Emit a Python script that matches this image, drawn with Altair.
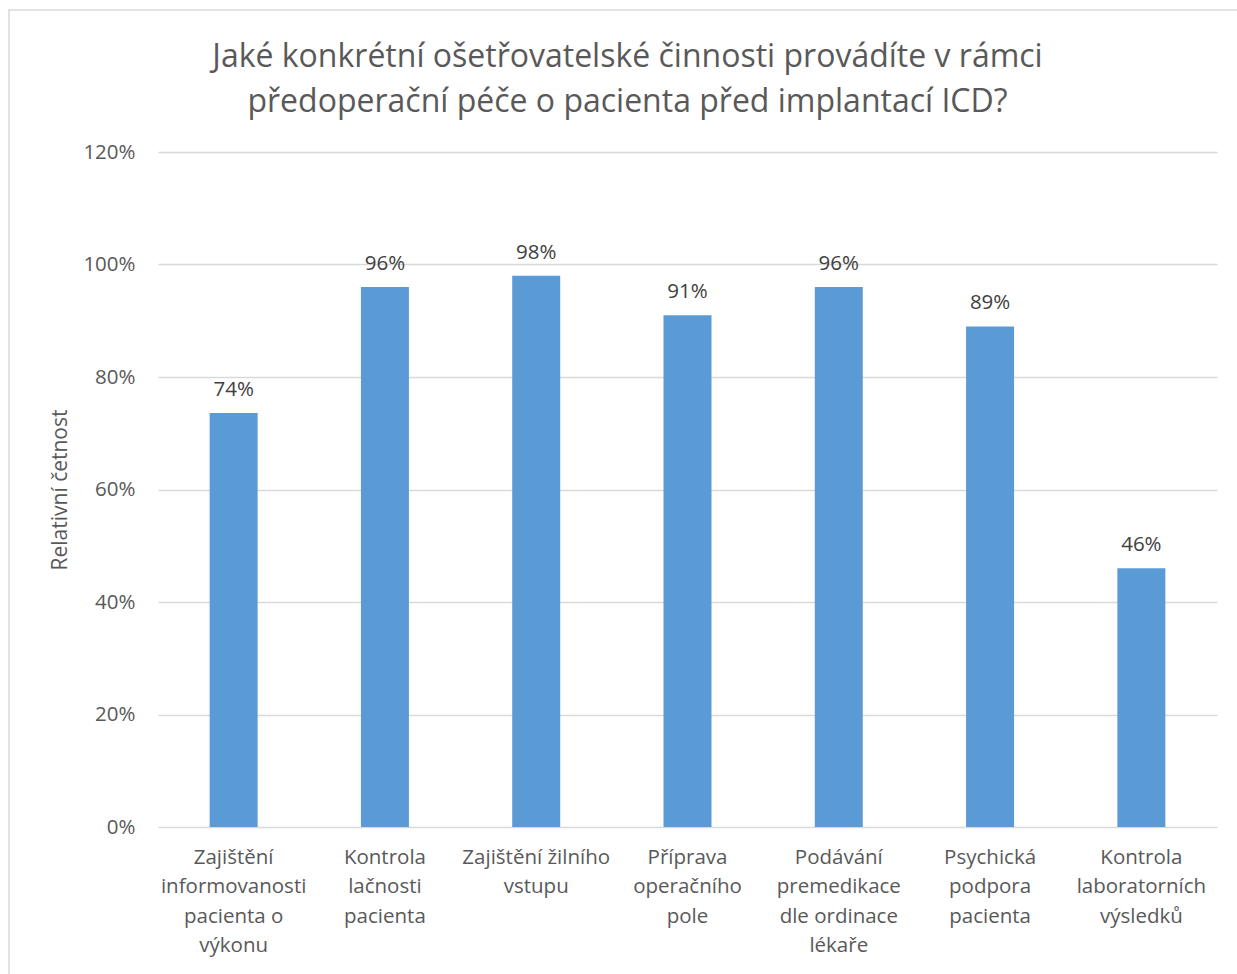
import altair as alt
import pandas as pd

categories = [
    "Zajištění\ninformovanosti\npacienta o\nvýkonu",
    "Kontrola\nlačnosti\npacienta",
    "Zajištění žilního\nvstupu",
    "Příprava\noperačního\npole",
    "Podávání\npremedikace\ndle ordinace\nlékaře",
    "Psychická\npodpora\npacienta",
    "Kontrola\nlaboratorních\nvýsledků",
]
values = [0.736, 0.96, 0.98, 0.91, 0.96, 0.89, 0.46]
y_ticks = [0, 0.2, 0.4, 0.6, 0.8, 1.0, 1.2]
title_lines = [
    "Jaké konkrétní ošetřovatelské činnosti provádíte v rámci",
    "předoperační péče o pacienta před implantací ICD?",
]
y_title = "Relativní četnost"

df = pd.DataFrame({"cat": categories, "val": values})

FONT = "Open Sans"
W, H = 1059, 675

x_enc = alt.X(
    "cat:N",
    sort=categories,
    title=None,
    scale=alt.Scale(paddingInner=0, paddingOuter=0),
    axis=alt.Axis(
        labelExpr="split(datum.label, '\\n')",
        labelAngle=0,
        labelFont=FONT,
        labelFontSize=20.5,
        labelColor="#595959",
        labelLineHeight=29.5,
        labelBaseline="top",
        labelPadding=20,
        ticks=False,
        domain=False,
        grid=False,
        labelLimit=0,
    ),
)
y_enc = alt.Y(
    "val:Q",
    title=y_title,
    scale=alt.Scale(domain=[0, 1.2], nice=False),
    axis=alt.Axis(
        values=y_ticks,
        format=".0%",
        labelFont=FONT,
        labelFontSize=20.5,
        labelColor="#595959",
        labelPadding=23,
        ticks=False,
        tickSize=0,
        domain=False,
        grid=True,
        gridColor="#d9d9d9",
        gridWidth=1.4,
        titleFont=FONT,
        titleFontSize=21,
        titleFontWeight="normal",
        titleColor="#595959",
        titleAngle=-90,
        titleBaseline="middle",
        titleAlign="center",
        titleX=-98,
        titleY=H / 2,
    ),
)

bars = alt.Chart(df).mark_bar(width=48, color="#5B9BD5").encode(x=x_enc, y=y_enc)
labels = alt.Chart(df).mark_text(
    dy=-17, baseline="alphabetic", font=FONT, fontSize=20.5, color="#404040"
).encode(x=alt.X("cat:N", sort=categories), y="val:Q", text=alt.Text("val:Q", format=".0%"))

border = alt.Chart(alt.Data(values=[{}])).mark_rect(
    fill=None, stroke="#d9d9d9", strokeWidth=1.5
).encode(
    x=alt.value(-149), x2=alt.value(W + 60), y=alt.value(-142), y2=alt.value(H + 200)
)

chart = alt.layer(border, bars, labels).properties(
    width=W,
    height=H,
    title=alt.TitleParams(
        text=title_lines,
        font=FONT,
        fontSize=32,
        fontWeight="normal",
        color="#595959",
        lineHeight=45,
        anchor="middle",
        dx=-60,
        offset=36,
        dy=146,
    ),
    autosize=alt.AutoSizeParams(type="none"),
    padding={"left": 158, "top": 152, "right": 20, "bottom": 147},
).configure(background="white").configure_view(stroke="transparent")

chart.save("out.html", embed_options={"renderer": "svg", "actions": False})
